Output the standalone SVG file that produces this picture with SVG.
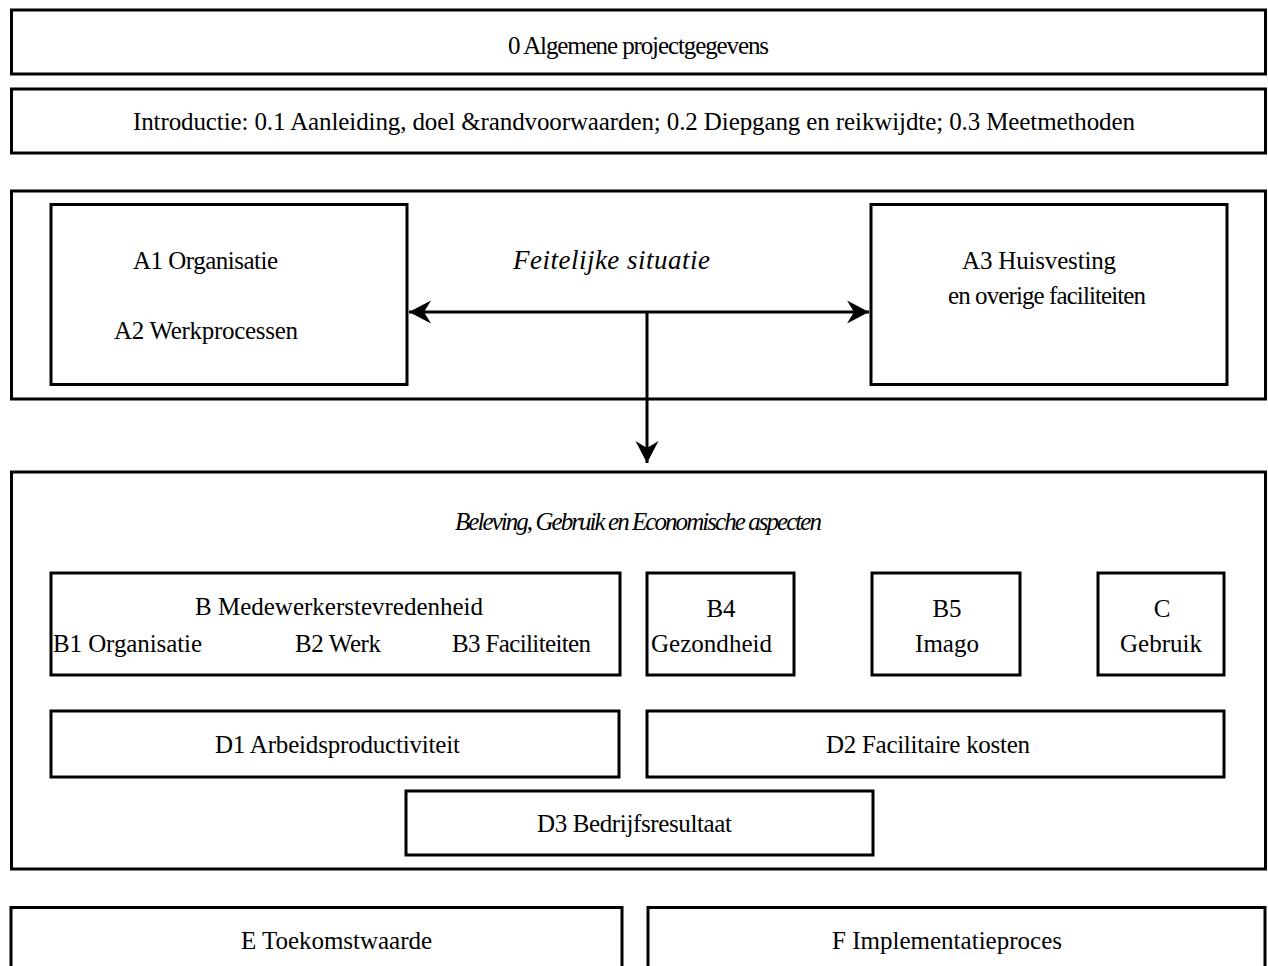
<svg xmlns="http://www.w3.org/2000/svg" width="1268" height="966" viewBox="0 0 1268 966">
  <style>
    .box { fill: #ffffff; stroke: #000000; stroke-width: 3; }
    .lbl { font-family: "Liberation Serif", "Times New Roman", serif; font-size: 25px; fill: #000000; }
    .mid { text-anchor: middle; }
    .it { font-style: italic; }
    .conn { stroke: #000000; stroke-width: 3; fill: none; }
  </style>
  <defs>
    <marker id="head" viewBox="0 0 24 24" refX="22" refY="12" markerWidth="24" markerHeight="24" markerUnits="userSpaceOnUse" orient="auto-start-reverse">
      <path d="M22,12 L0,0.5 L7,12 L0,23.5 Z" fill="#000000"/>
    </marker>
  </defs>
  <rect x="0" y="0" width="1268" height="966" fill="#ffffff"/>

  <g id="algemeen">
    <rect class="box" x="11.5" y="10" width="1254" height="64"/>
    <text class="lbl" x="508" y="54" textLength="261">0 Algemene projectgegevens</text>
  </g>

  <g id="introductie">
    <rect class="box" x="11.5" y="89" width="1254" height="64"/>
    <text class="lbl" x="133" y="130" textLength="1002">Introductie: 0.1 Aanleiding, doel &amp;randvoorwaarden; 0.2 Diepgang en reikwijdte; 0.3 Meetmethoden</text>
  </g>

  <g id="feitelijke-situatie">
    <rect class="box" x="11.5" y="191" width="1254" height="208"/>
    <text class="lbl it" x="513" y="269" style="font-size:27px" textLength="197">Feitelijke situatie</text>
  </g>

  <g id="a1-a2">
    <rect class="box" x="51" y="204.5" width="356" height="180"/>
    <text class="lbl" x="133" y="269" textLength="145">A1 Organisatie</text>
    <text class="lbl" x="114" y="339" textLength="184">A2 Werkprocessen</text>
  </g>

  <g id="a3">
    <rect class="box" x="871" y="204.5" width="356" height="180"/>
    <text class="lbl" x="962" y="269" textLength="154">A3 Huisvesting</text>
    <text class="lbl" x="948" y="304" textLength="198">en overige faciliteiten</text>
  </g>

  <g id="beleving">
    <rect class="box" x="11.5" y="472" width="1254" height="397"/>
    <text class="lbl it" x="455" y="530" textLength="367">Beleving, Gebruik en Economische aspecten</text>
  </g>

  <g id="b">
    <rect class="box" x="51" y="573" width="569" height="102"/>
    <text class="lbl" x="195" y="615" textLength="288">B Medewerkerstevredenheid</text>
    <text class="lbl" x="53" y="652" textLength="149">B1 Organisatie</text>
    <text class="lbl" x="295" y="652" textLength="86">B2 Werk</text>
    <text class="lbl" x="452" y="652" textLength="139">B3 Faciliteiten</text>
  </g>

  <g id="b4">
    <rect class="box" x="647" y="573" width="147" height="102"/>
    <text class="lbl mid" x="721" y="617">B4</text>
    <text class="lbl" x="651" y="652" textLength="121">Gezondheid</text>
  </g>

  <g id="b5">
    <rect class="box" x="872" y="573" width="148" height="102"/>
    <text class="lbl mid" x="947" y="617">B5</text>
    <text class="lbl mid" x="947" y="652">Imago</text>
  </g>

  <g id="c">
    <rect class="box" x="1098" y="573" width="126" height="102"/>
    <text class="lbl mid" x="1162" y="617">C</text>
    <text class="lbl mid" x="1161" y="652">Gebruik</text>
  </g>

  <g id="d1">
    <rect class="box" x="51" y="711" width="568" height="66"/>
    <text class="lbl" x="215" y="753" textLength="245">D1 Arbeidsproductiviteit</text>
  </g>

  <g id="d2">
    <rect class="box" x="647" y="711" width="577" height="66"/>
    <text class="lbl" x="826" y="753" textLength="204">D2 Facilitaire kosten</text>
  </g>

  <g id="d3">
    <rect class="box" x="406" y="791" width="467" height="64"/>
    <text class="lbl" x="537" y="832" textLength="195">D3 Bedrijfsresultaat</text>
  </g>

  <g id="e">
    <rect class="box" x="11" y="907.5" width="611" height="80"/>
    <text class="lbl" x="241" y="949" textLength="191">E Toekomstwaarde</text>
  </g>

  <g id="f">
    <rect class="box" x="648" y="907.5" width="617" height="80"/>
    <text class="lbl" x="832" y="949" textLength="230">F Implementatieproces</text>
  </g>

  <g id="connectors">
    <line class="conn" x1="409" y1="312" x2="869" y2="312" marker-start="url(#head)" marker-end="url(#head)"/>
    <line class="conn" x1="647" y1="312" x2="647" y2="463" marker-end="url(#head)"/>
  </g>
</svg>
